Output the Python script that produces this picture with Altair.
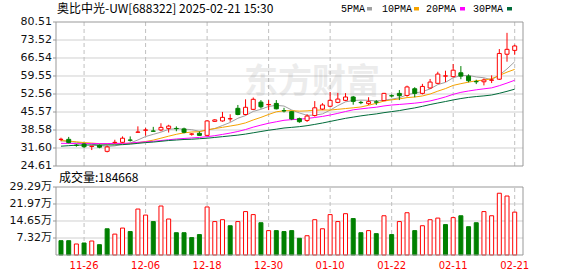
import altair as alt
import pandas as pd

# ---------------- data ----------------
dates = ["11-21","11-22","11-25","11-26","11-27","11-28","11-29","12-02","12-03","12-04",
         "12-05","12-06","12-09","12-10","12-11","12-12","12-13","12-16","12-17","12-18",
         "12-19","12-20","12-23","12-24","12-25","12-26","12-27","12-30","12-31","01-02",
         "01-03","01-06","01-07","01-08","01-09","01-10","01-13","01-14","01-15","01-16",
         "01-17","01-20","01-21","01-22","01-23","01-24","01-27","02-05","02-06","02-07",
         "02-10","02-11","02-12","02-13","02-14","02-17","02-18","02-19","02-20","02-21"]

opens = [34.9, 34.96, 32.7, 33.15, 32.2, 32.6, 30.3, 33.7, 33.8, 34.7,
         37.7, 38.5, 38.2, 38.6, 39.2, 39.2, 39.0, 36.95, 37.3, 36.5,
         41.95, 42.1, 42.9, 47.0, 44.6, 46.6, 49.4, 48.4, 48.9, 46.1,
         45.7, 43.0, 42.3, 44.2, 46.7, 47.8, 49.3, 50.1, 51.4, 49.3,
         48.8, 49.5, 50.0, 51.9, 52.8, 52.0, 54.6, 52.8, 54.9, 56.7,
         59.5, 59.3, 60.8, 59.5, 57.4, 57.3, 57.9, 58.3, 68.0, 69.5]
closes = [35.0, 33.7, 32.6, 32.1, 32.3, 31.9, 32.0, 33.8, 35.4, 34.6,
          37.8, 38.6, 38.1, 39.6, 40.1, 39.1, 37.7, 37.05, 36.5, 42.1,
          42.5, 43.5, 43.0, 44.6, 47.4, 50.5, 47.6, 48.5, 46.8, 46.0,
          42.85, 41.8, 44.0, 47.2, 48.3, 50.1, 50.6, 51.4, 49.7, 49.2,
          49.6, 49.4, 52.8, 51.8, 51.9, 55.3, 52.8, 55.5, 57.2, 60.3,
          59.6, 61.8, 59.5, 57.7, 57.3, 58.0, 58.0, 68.3, 69.9, 71.2]
highs = [35.6, 35.9, 33.2, 33.5, 32.4, 33.0, 32.6, 34.8, 36.1, 36.1,
         40.0, 39.4, 39.8, 41.2, 40.6, 40.0, 39.5, 37.4, 38.0, 42.4,
         42.8, 45.6, 44.7, 48.3, 50.5, 51.2, 50.2, 50.2, 50.2, 47.2,
         46.0, 43.4, 44.7, 49.8, 49.0, 53.3, 53.0, 52.9, 51.8, 49.9,
         51.3, 50.2, 53.0, 52.4, 54.1, 55.8, 55.2, 56.5, 58.4, 61.2,
         61.6, 64.2, 63.4, 60.2, 58.1, 58.6, 59.8, 70.0, 76.3, 71.7]
lows = [34.2, 33.4, 32.1, 31.6, 30.8, 31.5, 29.9, 33.3, 33.5, 34.1,
        37.6, 36.4, 38.0, 38.1, 37.6, 38.1, 37.3, 36.4, 36.3, 36.4,
        41.7, 41.8, 41.8, 44.3, 44.3, 46.3, 46.9, 46.3, 46.6, 45.4,
        42.4, 41.4, 41.7, 43.8, 46.3, 47.5, 49.0, 49.8, 48.4, 48.6,
        48.3, 48.3, 49.8, 51.2, 50.2, 51.5, 51.3, 52.4, 54.6, 56.4,
        57.2, 59.0, 58.3, 57.1, 56.4, 55.9, 56.8, 58.0, 65.1, 67.8]

ma5 = [34.4, 34.1, 33.8, 33.5, 33.14, 32.52, 32.18, 32.42, 33.08, 33.54,
       34.72, 36.04, 36.9, 37.74, 38.84, 39.1, 38.92, 38.71, 38.09, 38.49,
       39.17, 40.33, 41.52, 43.14, 44.2, 45.8, 46.62, 47.72, 48.16, 47.88,
       46.35, 45.19, 44.29, 44.37, 44.83, 46.28, 48.04, 49.52, 50.02, 50.2,
       50.1, 49.86, 50.14, 50.56, 51.1, 52.24, 52.92, 53.46, 54.54, 56.22,
       57.08, 58.88, 59.68, 59.78, 59.18, 58.86, 58.1, 59.86, 62.3, 65.08]
ma10 = [34.5, 34.3, 34.0, 33.7, 33.5, 33.3, 33.2, 33.2, 33.3, 33.34,
        33.62, 34.11, 34.66, 35.41, 36.19, 36.91, 37.48, 37.81, 37.92, 38.67,
        39.14, 39.63, 40.12, 40.62, 41.35, 42.49, 43.48, 44.62, 45.65, 46.04,
        46.08, 45.91, 46.01, 46.27, 46.36, 46.32, 46.62, 46.91, 47.2, 47.52,
        48.19, 48.95, 49.83, 50.29, 50.65, 51.17, 51.39, 51.8, 52.55, 53.66,
        54.66, 55.9, 56.57, 57.16, 57.7, 57.97, 58.49, 59.77, 61.04, 62.13]
ma20 = [33.4, 33.4, 33.3, 33.3, 33.3, 33.3, 33.3, 33.4, 33.4, 33.5,
        33.8, 34.0, 34.2, 34.5, 34.8, 35.1, 35.3, 35.5, 35.7, 36.0,
        36.38, 36.87, 37.39, 38.01, 38.77, 39.7, 40.48, 41.21, 41.78, 42.35,
        42.61, 42.77, 43.06, 43.44, 43.85, 44.4, 45.05, 45.76, 46.42, 46.78,
        47.13, 47.43, 47.92, 48.28, 48.5, 48.74, 49.0, 49.35, 49.87, 50.59,
        51.43, 52.43, 53.2, 53.73, 54.18, 54.57, 54.94, 55.79, 56.8, 57.9]
ma30 = [32.3, 32.5, 32.7, 32.75, 32.75, 32.75, 32.8, 32.8, 32.9, 33.1,
        33.4, 33.7, 33.9, 34.2, 34.5, 34.7, 34.9, 35.0, 35.2, 35.4,
        35.7, 36.0, 36.3, 36.6, 37.0, 37.5, 38.0, 38.5, 38.9, 39.35,
        39.61, 39.88, 40.26, 40.76, 41.3, 41.9, 42.52, 43.11, 43.59, 44.07,
        44.47, 44.83, 45.32, 45.72, 46.12, 46.66, 47.16, 47.78, 48.47, 49.07,
        49.64, 50.25, 50.8, 51.24, 51.57, 51.82, 52.17, 52.83, 53.6, 54.44]

# volume in units of 万 (10,000 shares)
vols = [6.17, 6.17, 4.74, 5.17, 6.03, 4.45, 11.3, 9.0, 11.6, 10.1,
        19.8, 17.2, 14.4, 21.1, 15.5, 9.6, 9.6, 7.5, 8.8, 20.7,
        14.4, 15.2, 12.6, 14.4, 18.7, 17.4, 13.9, 10.5, 10.5, 10.1,
        10.5, 7.2, 8.3, 15.2, 11.3, 17.4, 14.4, 17.8, 15.7, 9.6,
        10.5, 9.2, 16.9, 8.8, 14.4, 18.2, 10.5, 12.6, 15.2, 15.9,
        13.1, 16.1, 16.9, 12.2, 13.9, 18.7, 16.9, 26.6, 25.4, 18.47]
vol_up = [0, 0, 1, 0, 1, 0, 0, 1, 1, 0,
          1, 1, 0, 1, 1, 0, 0, 0, 0, 1,
          1, 1, 0, 1, 1, 1, 0, 1, 0, 0,
          0, 0, 1, 1, 1, 1, 1, 1, 0, 0,
          1, 0, 1, 0, 1, 1, 0, 1, 1, 1,
          0, 1, 0, 0, 0, 1, 1, 1, 1, 1]

x_tick_idx = [3, 11, 19, 27, 35, 43, 51, 59]
price_ticks = ["24.61", "31.60", "38.58", "45.57", "52.56", "59.55", "66.54", "73.52", "80.51"]
vol_ticks = ["7.32", "14.65", "21.97", "29.29"]

title_text = "奥比中光-UW[688322] 2025-02-21 15:30"
vol_text = "成交量:184668"
ma_names = ["5PMA", "10PMA", "20PMA", "30PMA"]
watermark = "东方财富"

# ---------------- styling / layout ----------------
RED = "#ff0000"
GREEN = "#008000"
MA_COLORS = ["#a0a0a0", "#f5a300", "#ff00ff", "#006b3a"]
FRAME = "#999999"
GRID = "#d0d0d0"
VGRID = "#c0c0c0"
W = 467
UP_H = 144
VOL_H = 68
GAP = 21
LEG_TEXT_X = [285, 326, 370, 417]   # legend layout (relative to plot origin)
LEG_SQ_X = [311, 358, 404, 451]
LABEL_FONT = "DejaVu Sans, Noto Sans CJK SC"
X_LO, X_HI = -0.65, 60.08
TICK_LEN = 3 * (X_HI - X_LO) / W     # 3 px expressed in x units

df = pd.DataFrame({
    "i": list(range(len(dates))), "date": dates,
    "open": opens, "high": highs, "low": lows, "close": closes,
    "vol": vols, "vol_up": vol_up,
    "ma5": ma5, "ma10": ma10, "ma20": ma20, "ma30": ma30,
})
one = pd.DataFrame({"k": [0]})

p_vals = [float(v) for v in price_ticks]
v_vals = [float(v) for v in vol_ticks]
P_LO, P_HI = p_vals[0], p_vals[-1]
V_LO, V_HI = 0.0, v_vals[-1]

xscale = alt.Scale(domain=[X_LO, X_HI], nice=False, zero=False, padding=0)
yscale_p = alt.Scale(domain=[P_LO, P_HI], zero=False, nice=False, padding=0)
yscale_v = alt.Scale(domain=[V_LO, V_HI], nice=False, padding=0)

base = alt.Chart(df)
up_test = "datum.close >= datum.open"


def guides(tick_vals, tick_labels, yscale, lo, hi):
    """grid, frame, ticks and labels of one panel, all drawn as marks with field positions."""
    inner = [v for v in tick_vals if lo < v < hi]
    hgrid = alt.Chart(pd.DataFrame({"v": inner, "x0": X_LO, "x1": X_HI})).mark_rule(
        color=GRID, strokeWidth=1).encode(
        y=alt.Y("v:Q", scale=yscale, axis=None),
        x=alt.X("x0:Q", scale=xscale, axis=None), x2="x1:Q")
    vgrid = alt.Chart(pd.DataFrame({"t": x_tick_idx, "lo": lo, "hi": hi})).mark_rule(
        color=VGRID, strokeWidth=1, strokeDash=[4, 3]).encode(
        x=alt.X("t:Q", scale=xscale, axis=None),
        y=alt.Y("lo:Q", scale=yscale, axis=None), y2="hi:Q")
    hframe = alt.Chart(pd.DataFrame({"v": [lo, hi], "x0": X_LO, "x1": X_HI})).mark_rule(
        color=FRAME, strokeWidth=1).encode(
        y=alt.Y("v:Q", scale=yscale, axis=None),
        x=alt.X("x0:Q", scale=xscale, axis=None), x2="x1:Q")
    vframe = alt.Chart(pd.DataFrame({"t": [X_LO, X_HI], "lo": lo, "hi": hi})).mark_rule(
        color=FRAME, strokeWidth=1).encode(
        x=alt.X("t:Q", scale=xscale, axis=None),
        y=alt.Y("lo:Q", scale=yscale, axis=None), y2="hi:Q")
    ticks = alt.Chart(pd.DataFrame({"v": tick_vals, "x0": X_LO - TICK_LEN, "x1": X_LO})).mark_rule(
        color=FRAME, strokeWidth=1).encode(
        y=alt.Y("v:Q", scale=yscale, axis=None),
        x=alt.X("x0:Q", scale=xscale, axis=None), x2="x1:Q")
    labels = alt.Chart(pd.DataFrame({"v": tick_vals, "label": tick_labels})).mark_text(
        align="right", baseline="middle", font=LABEL_FONT, fontSize=11, color="#111111"
    ).encode(y=alt.Y("v:Q", scale=yscale, axis=None), x=alt.value(-4), text="label:N")
    return [hgrid, vgrid], [hframe, vframe, ticks, labels]


# ---------------- price panel ----------------
wm = alt.Chart(one).mark_text(text=watermark, font="Noto Sans CJK SC", fontSize=34,
                              fontWeight="bold", color="#8c8c8c", opacity=0.16,
                              align="center", baseline="middle").encode(
    x=alt.value(256), y=alt.value(61))

ma_layers = []
for fld, col in zip(["ma5", "ma10", "ma20", "ma30"], MA_COLORS):
    ma_layers.append(base.mark_line(color=col, strokeWidth=1).encode(
        x=alt.X("i:Q", scale=xscale, axis=None),
        y=alt.Y(f"{fld}:Q", scale=yscale_p, axis=None)))

wicks = base.mark_rule(strokeWidth=1).encode(
    x=alt.X("i:Q", scale=xscale, axis=None),
    y=alt.Y("low:Q", scale=yscale_p, axis=None), y2="high:Q",
    color=alt.condition(up_test, alt.value(RED), alt.value(GREEN)))

bodies = base.mark_bar(size=4, strokeWidth=1).encode(
    x=alt.X("i:Q", scale=xscale, axis=None),
    y=alt.Y("open:Q", scale=yscale_p, axis=None), y2="close:Q",
    fill=alt.condition(up_test, alt.value("white"), alt.value(GREEN)),
    stroke=alt.condition(up_test, alt.value(RED), alt.value(GREEN)))

title = alt.Chart(one).mark_text(
    text=title_text, align="left", baseline="middle", font="Noto Sans CJK SC",
    fontSize=12, color="#000000").encode(x=alt.value(1), y=alt.value(-13))

legend_layers = []
for name, col, tx, sx in zip(ma_names, MA_COLORS, LEG_TEXT_X, LEG_SQ_X):
    legend_layers.append(alt.Chart(one).mark_text(
        text=name, align="left", baseline="middle", font="Liberation Mono",
        fontSize=10, color="#000000").encode(x=alt.value(tx), y=alt.value(-13)))
    legend_layers.append(alt.Chart(one).mark_rect(color=col).encode(
        x=alt.value(sx), x2=alt.value(sx + 5), y=alt.value(-15), y2=alt.value(-11.5)))

p_back, p_front = guides(p_vals, price_ticks, yscale_p, P_LO, P_HI)
price = alt.layer(*p_back, wm, *ma_layers, wicks, bodies, *p_front,
                  title, *legend_layers).properties(width=W, height=UP_H)

# ---------------- volume panel ----------------
vbars = base.mark_bar(size=4, strokeWidth=1).encode(
    x=alt.X("i:Q", scale=xscale, axis=None),
    y=alt.Y("vol:Q", scale=yscale_v, axis=None),
    fill=alt.condition("datum.vol_up == 1", alt.value("white"), alt.value(GREEN)),
    stroke=alt.condition("datum.vol_up == 1", alt.value(RED), alt.value(GREEN)))

vlabel = alt.Chart(one).mark_text(
    text=vol_text, align="left", baseline="middle", font="Noto Sans CJK SC",
    fontSize=12, color="#000000").encode(x=alt.value(3), y=alt.value(-9))

xlabels = alt.Chart(pd.DataFrame({"t": x_tick_idx,
                                  "label": [dates[t] for t in x_tick_idx]})).mark_text(
    align="center", baseline="middle", font="DejaVu Sans", fontSize=10, color=RED
).encode(x=alt.X("t:Q", scale=xscale, axis=None), y=alt.value(VOL_H + 11), text="label:N")

v_back, v_front = guides(v_vals, [s + "万" for s in vol_ticks], yscale_v, V_LO, V_HI)
volume = alt.layer(*v_back, vbars, *v_front, vlabel, xlabels).properties(
    width=W, height=VOL_H)

chart = alt.vconcat(price, volume, spacing=GAP, bounds="flush").properties(
    padding={"left": 9, "top": 3, "right": 5, "bottom": 5},
    background="white",
).configure_view(strokeWidth=0)

chart.save("out.html", embed_options={"renderer": "svg", "actions": False})
